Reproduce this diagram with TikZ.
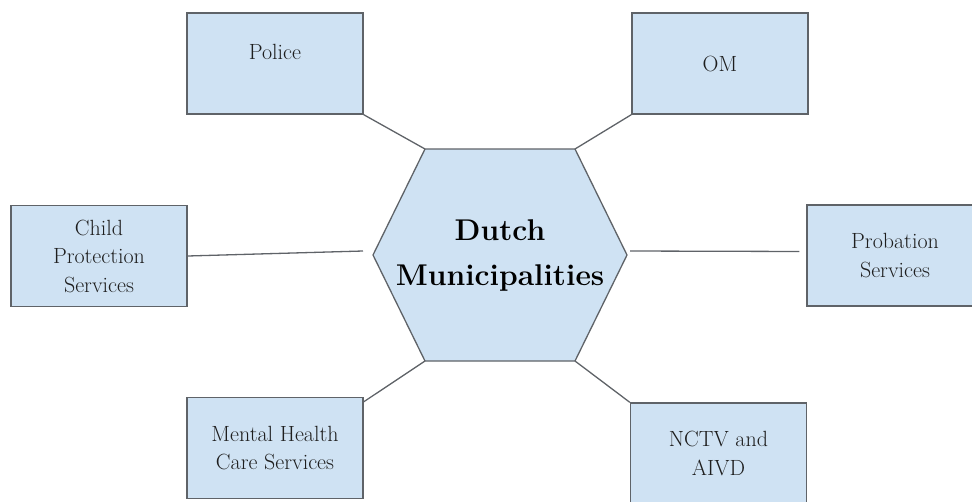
\documentclass[tikz,border=0pt]{standalone}
\usepackage{fontspec}
\usepackage{tikz}
\usetikzlibrary{positioning}
\definecolor{boxfill}{HTML}{CFE2F3}
\definecolor{linegray}{HTML}{5F6368}
\definecolor{textgray}{HTML}{1E1E1E}

\begin{document}
\begin{tikzpicture}[x=1pt,y=-1pt,
box/.style={draw=linegray,fill=boxfill,line width=1.3pt,rectangle,minimum width=176pt,minimum height=101pt,inner sep=0pt,align=center,text=textgray,font=\fontsize{22}{28.5}\selectfont},
link/.style={draw=linegray,line width=1.3pt}]
\useasboundingbox (0,0) rectangle (972,501);
% hexagon in the middle
\coordinate (hw) at (373,255);
\coordinate (hnw) at (425,149);
\coordinate (hne) at (575,149);
\coordinate (he) at (627,255);
\coordinate (hse) at (575,361);
\coordinate (hsw) at (425,361);
\draw[fill=boxfill,draw=linegray,line width=1.3pt] (hw) -- (hnw) -- (hne) -- (he) -- (hse) -- (hsw) -- cycle;
\node (hub) at (500,255) [align=center,font=\bfseries\fontsize{30}{45}\selectfont] {Dutch\\Municipalities};

\node (police) [box,text depth=23pt] at (275,63.5) {Police};
\node (om) [box] at (720,63.5) {OM};
\node (child) [box] at (99,256) {Child\\Protection\\Services};
\node (probation) [box] at (895,255.5) {Probation\\Services};
\node (mental) [box] at (275,448) {Mental Health\\Care Services};
\node (nctv) [box] at (718.5,453.5) {NCTV and\\AIVD};

\coordinate (childend) at (363,251);
\draw[link] (police.south east) -- (hnw);
\draw[link] (om.south west) -- (hne);
\draw[link] (child.east) -- (childend);
\draw[link,shorten <=3pt,shorten >=7pt] ([yshift=4pt]he) -- ([yshift=4pt]probation.west);
\draw[link] ([yshift=-5pt]mental.north east) -- (hsw);
\draw[link] (hse) -- (nctv.north west);
\end{tikzpicture}
\end{document}
